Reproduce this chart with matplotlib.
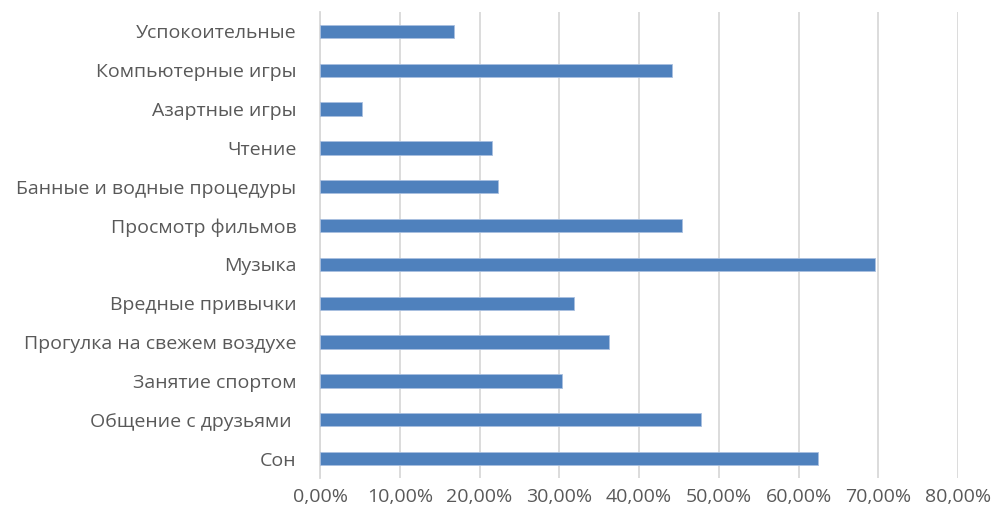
import matplotlib.pyplot as plt
import numpy as np

# категории снизу вверх, как на оси Y
categories = ["Сон", "Общение с друзьями ", "Занятие спортом",
              "Прогулка на свежем воздухе", "Вредные привычки", "Музыка",
              "Просмотр фильмов", "Банные и водные процедуры", "Чтение",
              "Азартные игры", "Компьютерные игры", "Успокоительные"]
values = [62.4, 47.8, 30.3, 36.2, 31.9, 69.6, 45.4, 22.3, 21.6, 5.3, 44.1, 16.8]
ticks = [0, 10, 20, 30, 40, 50, 60, 70, 80]
tick_labels = ["0,00%", "10,00%", "20,00%", "30,00%", "40,00%",
               "50,00%", "60,00%", "70,00%", "80,00%"]

plt.rcParams['font.family'] = ['Open Sans', 'DejaVu Sans']

fig = plt.figure(figsize=(9.93, 5.17), dpi=100)
ax = fig.add_axes([0.3223, 0.0754, 0.6425, 0.9014])

y = np.arange(len(categories))
ax.barh(y, values, height=0.34, color="#4f81bd", edgecolor="#a9c0e0",
        linewidth=0.6, zorder=3)

ax.set_xlim(0, 80)
ax.set_ylim(-0.5, len(categories) - 0.5)
ax.set_xticks(ticks)
ax.set_xticklabels(tick_labels)
ax.set_yticks(y)
ax.set_yticklabels(categories)

ax.grid(axis="x", color="#d9d9d9", linewidth=1.3, zorder=0)
for s in ["top", "right", "bottom"]:
    ax.spines[s].set_visible(False)
ax.spines["left"].set_color("#d9d9d9")
ax.spines["left"].set_linewidth(1.3)

ax.tick_params(axis="both", length=0, labelsize=14, colors="#595959")
ax.tick_params(axis="y", pad=17)
ax.tick_params(axis="x", pad=7)

fig.savefig("out.png", dpi=100)
